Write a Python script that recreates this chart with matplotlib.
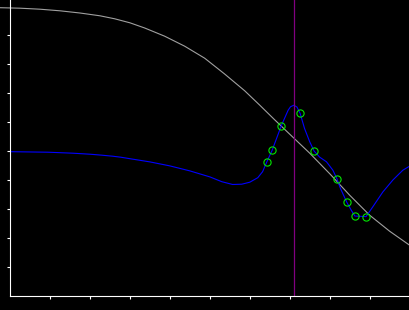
import matplotlib
matplotlib.use("Agg")
import matplotlib.pyplot as plt


# grey falling curve
GREY_X = [-0.26, 0.24, 0.74, 1.24, 1.74, 2.24, 2.61, 2.99, 3.36, 3.86, 4.36,
          4.86, 5.36, 5.86, 6.24, 6.61, 6.99, 7.49, 7.99, 8.49, 8.99, 9.49,
          9.99]
GREY_Y = [9.924, 9.907, 9.872, 9.817, 9.741, 9.645, 9.541, 9.403, 9.224,
          8.941, 8.597, 8.183, 7.638, 7.062, 6.562, 6.062, 5.562, 4.907,
          4.200, 3.459, 2.769, 2.217, 1.734]

# blue curve
BLUE_X = [0.00, 0.94, 1.56, 1.99, 2.29, 2.56, 2.76, 2.99, 3.49, 3.99, 4.49,
          4.99, 5.29, 5.56, 5.79, 5.99, 6.19, 6.31, 6.42, 6.55, 6.78, 6.95,
          7.01, 7.09, 7.17, 7.25, 7.36, 7.49, 7.60, 7.74, 7.91, 8.07, 8.17,
          8.26, 8.42, 8.53, 8.62, 8.90, 9.07, 9.32, 9.57, 9.82, 9.99]
BLUE_Y = [4.959, 4.941, 4.907, 4.872, 4.838, 4.803, 4.769, 4.717, 4.607,
          4.469, 4.297, 4.090, 3.924, 3.828, 3.838, 3.907, 4.062, 4.269,
          4.62, 5.01, 5.86, 6.39, 6.51, 6.56, 6.50, 6.28, 5.76, 5.30, 4.98,
          4.77, 4.61, 4.32, 4.03, 3.69, 3.21, 2.94, 2.74, 2.72, 3.06, 3.57,
          3.98, 4.32, 4.46]

# sample points (green circles)
PTS_X = [6.42, 6.55, 6.78, 7.25, 7.60, 8.17, 8.42, 8.62, 8.90]
PTS_Y = [4.62, 5.01, 5.86, 6.28, 4.98, 4.03, 3.21, 2.74, 2.72]

MARKER_X = 7.095

TICKS = list(range(1, 10))


fig = plt.figure(figsize=(4.1, 3.1), dpi=100, facecolor="black")
ax = fig.add_axes([10.5 / 410, 14.5 / 310, 1 - 10.5 / 410, 1 - 14.5 / 310])
ax.set_facecolor("black")

ax.plot(GREY_X, GREY_Y, color="#a0a0a0", lw=0.8, clip_on=False)
ax.plot(BLUE_X, BLUE_Y, color="#0000ff", lw=0.8)
ax.axvline(MARKER_X, color="#800080", lw=0.9)
ax.plot(PTS_X, PTS_Y, ls="none", marker="o", ms=5.2, mfc="none",
        mec="#00e600", mew=0.8)

ax.set_xlim(0, 10)
ax.set_ylim(0, 295.5 / 29)
ax.set_xticks(TICKS)
ax.set_yticks(TICKS)
ax.set_xticklabels([])
ax.set_yticklabels([])
ax.tick_params(colors="white", direction="out", length=2.5, width=0.8)

for side in ("top", "right"):
    ax.spines[side].set_visible(False)
for side in ("left", "bottom"):
    ax.spines[side].set_color("white")
    ax.spines[side].set_linewidth(0.8)

fig.savefig("out.png", dpi=100, facecolor="black")
